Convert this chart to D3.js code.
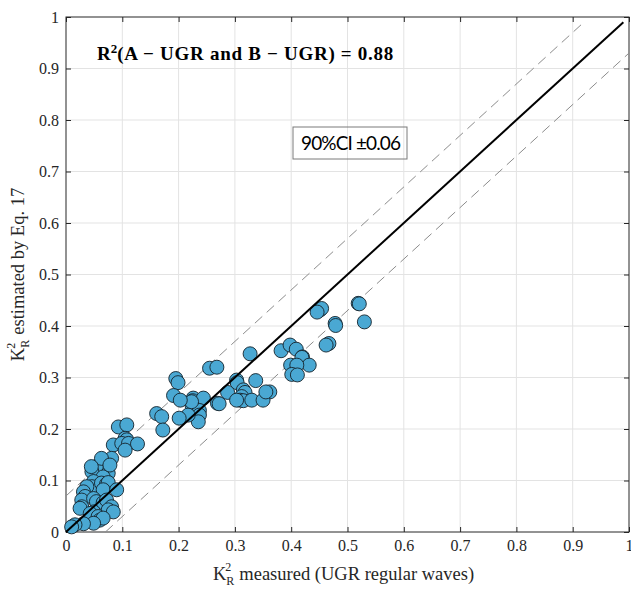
<!DOCTYPE html>
<html>
<head>
<meta charset="utf-8">
<script src="https://cdn.jsdelivr.net/npm/d3@7"></script>
<style>
  body { margin: 0; background: #fff; }
  .tick text { font-family: "Liberation Serif", "Times New Roman", serif; font-size: 16px; fill: #262626; }
  .lbl { font-family: "Liberation Serif", "Times New Roman", serif; font-size: 18.5px; fill: #262626; }
</style>
</head>
<body>
<div id="chart"></div>
<script>
const width = 631;
const height = 589;
const margin = { top: 17, right: 2, bottom: 57, left: 66 };

// measured K_R^2 (x) and estimated by Eq. 17 (y)
const measured = [
  0.519, 0.521, 0.530, 0.451, 0.454, 0.446, 0.478, 0.479, 0.467, 0.462,
  0.382, 0.398, 0.409, 0.420, 0.419, 0.432, 0.399, 0.410, 0.401, 0.411, 0.362,
  0.327, 0.255, 0.268, 0.195, 0.199, 0.191, 0.303, 0.304, 0.337, 0.287,
  0.269, 0.272, 0.315, 0.318, 0.312, 0.309, 0.315, 0.303, 0.330, 0.350,
  0.355, 0.226, 0.225, 0.226, 0.244, 0.224, 0.237, 0.237, 0.235, 0.217,
  0.201, 0.161, 0.170, 0.172, 0.223, 0.203,
  0.093, 0.108, 0.105, 0.108, 0.084, 0.099, 0.111, 0.127, 0.105, 0.066,
  0.075, 0.060, 0.075, 0.054, 0.046, 0.075, 0.066, 0.049, 0.046, 0.063,
  0.072, 0.075, 0.066, 0.090, 0.037, 0.031, 0.034, 0.028, 0.028, 0.025,
  0.049, 0.054, 0.066, 0.072, 0.081, 0.075, 0.084, 0.049, 0.043, 0.057,
  0.060, 0.066, 0.049, 0.031, 0.016, 0.010, 0.081, 0.063, 0.078, 0.045
];
const estimated = [
  0.444, 0.443, 0.408, 0.431, 0.434, 0.427, 0.405, 0.401, 0.366, 0.363,
  0.352, 0.363, 0.355, 0.340, 0.339, 0.324, 0.324, 0.324, 0.306, 0.305, 0.272,
  0.346, 0.318, 0.320, 0.298, 0.290, 0.265, 0.295, 0.290, 0.294, 0.271,
  0.250, 0.249, 0.276, 0.271, 0.263, 0.256, 0.255, 0.256, 0.256, 0.256,
  0.272, 0.260, 0.255, 0.250, 0.260, 0.245, 0.236, 0.227, 0.214, 0.227,
  0.221, 0.230, 0.224, 0.198, 0.253, 0.256,
  0.204, 0.208, 0.182, 0.179, 0.169, 0.172, 0.172, 0.171, 0.159, 0.140,
  0.137, 0.130, 0.130, 0.127, 0.117, 0.114, 0.107, 0.098, 0.088, 0.095,
  0.093, 0.096, 0.082, 0.082, 0.088, 0.078, 0.069, 0.062, 0.049, 0.046,
  0.065, 0.059, 0.057, 0.062, 0.049, 0.043, 0.039, 0.039, 0.036, 0.030,
  0.023, 0.027, 0.017, 0.016, 0.014, 0.010, 0.143, 0.143, 0.130, 0.127
];

const ticks = [0, 0.1, 0.2, 0.3, 0.4, 0.5, 0.6, 0.7, 0.8, 0.9, 1];
const ciBand = 0.07;     // offset of dashed lines
const fitEnd = 0.99;

const svg = d3.select("#chart")
  .append("svg")
  .attr("width", width)
  .attr("height", height);

const x = d3.scaleLinear().domain([0, 1]).range([margin.left, width - margin.right]);
const y = d3.scaleLinear().domain([0, 1]).range([height - margin.bottom, margin.top]);

// grid
svg.append("g")
  .selectAll("line")
  .data(ticks.slice(1, -1))
  .join("line")
  .attr("x1", d => x(d)).attr("x2", d => x(d))
  .attr("y1", y(0)).attr("y2", y(1))
  .attr("stroke", "#e3e3e3").attr("stroke-width", 1);

svg.append("g")
  .selectAll("line")
  .data(ticks.slice(1, -1))
  .join("line")
  .attr("y1", d => y(d)).attr("y2", d => y(d))
  .attr("x1", x(0)).attr("x2", x(1))
  .attr("stroke", "#e3e3e3").attr("stroke-width", 1);

const fmt = d => (d === 0 || d === 1) ? String(d) : d.toFixed(1);

// axes, ticks pointing inward
svg.append("g")
  .attr("transform", `translate(0,${y(0)})`)
  .call(d3.axisBottom(x).tickValues(ticks).tickFormat(fmt).tickSize(-5).tickPadding(8))
  .call(g => g.select(".domain").remove())
  .call(g => g.selectAll(".tick line").attr("stroke", "#262626"));

svg.append("g")
  .attr("transform", `translate(0,${y(1)})`)
  .call(d3.axisTop(x).tickValues(ticks).tickFormat("").tickSize(-5))
  .call(g => g.select(".domain").remove())
  .call(g => g.selectAll(".tick line").attr("stroke", "#262626"));

svg.append("g")
  .attr("transform", `translate(${x(0)},0)`)
  .call(d3.axisLeft(y).tickValues(ticks).tickFormat(fmt).tickSize(-5).tickPadding(7))
  .call(g => g.select(".domain").remove())
  .call(g => g.selectAll(".tick line").attr("stroke", "#262626"));

svg.append("g")
  .attr("transform", `translate(${x(1)},0)`)
  .call(d3.axisRight(y).tickValues(ticks).tickFormat("").tickSize(-5))
  .call(g => g.select(".domain").remove())
  .call(g => g.selectAll(".tick line").attr("stroke", "#262626"));

// box
svg.append("rect")
  .attr("x", x(0)).attr("y", y(1))
  .attr("width", x(1) - x(0)).attr("height", y(0) - y(1))
  .attr("fill", "none").attr("stroke", "#262626").attr("stroke-width", 1);

// dashed confidence lines
const upper = [[0, ciBand], [fitEnd - ciBand, fitEnd]];
const lower = [[ciBand, 0], [1, 1 - ciBand]];
const line = d3.line().x(d => x(d[0])).y(d => y(d[1]));

[upper, lower].forEach(seg => {
  svg.append("path")
    .attr("d", line(seg))
    .attr("fill", "none")
    .attr("stroke", "#8c8c8c")
    .attr("stroke-width", 1)
    .attr("stroke-dasharray", "10,6");
});

// points
svg.append("g")
  .selectAll("circle")
  .data(measured.map((m, i) => [m, estimated[i]]))
  .join("circle")
  .attr("cx", d => x(d[0]))
  .attr("cy", d => y(d[1]))
  .attr("r", 7)
  .attr("fill", "#4aa8d3")
  .attr("stroke", "#14222b")
  .attr("stroke-width", 0.9);

// 1:1 line
svg.append("path")
  .attr("d", line([[0, 0], [fitEnd, fitEnd]]))
  .attr("stroke", "#000")
  .attr("stroke-width", 2)
  .attr("fill", "none");

// R^2 annotation
const r2 = svg.append("text")
  .attr("x", 97).attr("y", 60)
  .attr("font-family", "'Liberation Serif', serif")
  .attr("font-weight", "bold")
  .attr("font-size", 19)
  .attr("fill", "#000");
r2.append("tspan").text("R");
r2.append("tspan").attr("font-size", 13).attr("dy", -7).text("2");
r2.append("tspan").attr("dy", 7)
  .attr("textLength", 276).attr("lengthAdjust", "spacing")
  .text("(A \u2212 UGR and B \u2212 UGR) = 0.88");

// CI box (transparent, grid shows through)
const ci = svg.append("g");
ci.append("rect")
  .attr("x", 293).attr("y", 127)
  .attr("width", 114).attr("height", 32)
  .attr("fill", "none").attr("stroke", "#7a7a7a").attr("stroke-width", 1);
ci.append("text")
  .attr("x", 301).attr("y", 150)
  .attr("font-family", "Lato, 'Open Sans', sans-serif")
  .attr("font-size", 19)
  .attr("textLength", 100).attr("lengthAdjust", "spacing")
  .attr("fill", "#000")
  .text("90%CI \u00b10.06");

// x label
const xl = svg.append("text")
  .attr("class", "lbl")
  .attr("x", (x(0) + x(1)) / 2 - 4)
  .attr("y", 580)
  .attr("text-anchor", "middle");
xl.append("tspan").text("K");
xl.append("tspan").attr("font-size", 12).attr("dy", 5).text("R");
xl.append("tspan").attr("font-size", 12).attr("dx", -9).attr("dy", -14).text("2");
xl.append("tspan").attr("dy", 9).attr("dx", 8).text("measured (UGR regular waves)");

// y label
const yl = svg.append("text")
  .attr("class", "lbl")
  .attr("transform", `translate(24,${(y(0) + y(1)) / 2}) rotate(-90)`)
  .attr("text-anchor", "middle");
yl.append("tspan").text("K");
yl.append("tspan").attr("font-size", 12).attr("dy", 5).text("R");
yl.append("tspan").attr("font-size", 12).attr("dx", -9).attr("dy", -14).text("2");
yl.append("tspan").attr("dy", 9).attr("dx", 8).text("estimated by Eq. 17");
</script>
</body>
</html>
